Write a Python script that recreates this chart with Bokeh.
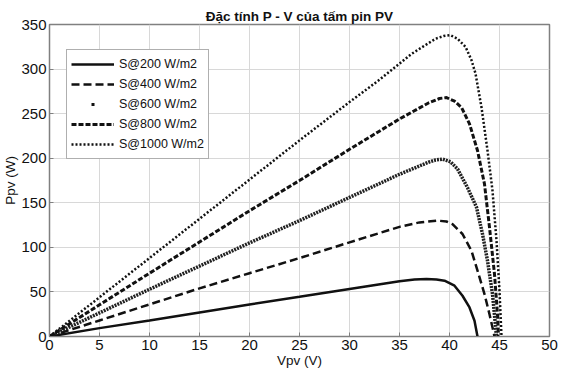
from bokeh.plotting import figure
from bokeh.models import Legend, LegendItem, Range1d, FixedTicker
from bokeh.embed import file_html
from bokeh.resources import INLINE

# Data
v200 = [0, 5, 10, 15, 20, 25, 30, 35, 36.5, 37.7, 38.7, 39.5, 40.5, 41.3, 42, 42.5, 42.8]
p200 = [0, 9.4, 18, 27, 36, 44.5, 53.3, 62, 64, 64.5, 64, 62.6, 57, 45.7, 32.6, 17.6, 0]

v400 = [0, 5, 10, 15, 20, 25, 30, 35, 37, 38.8, 39.7, 40.3, 41.3, 42.2, 42.8, 43.5, 44, 44.5]
p400 = [0, 18, 36, 54, 71, 88, 105.6, 123, 128, 130, 129, 126, 115, 96, 74, 47.6, 25, 0]

v600 = [0, 5, 10, 15, 20, 25, 30, 35, 37.9, 38.6, 39.3, 40.1, 40.8, 41.8, 42.7, 43.3, 43.8, 44.3, 44.7]
p600 = [0, 26.5, 53, 79, 105, 130, 156, 182, 195.5, 198, 199, 196, 188, 167, 145, 115, 85, 47.6, 0]

v800 = [0, 5, 10, 15, 20, 25, 30, 35, 37.9, 39.0, 39.7, 40.5, 41.2, 42, 42.8, 43.5, 44, 44.5, 44.8, 44.9]
p800 = [0, 35.5, 71, 106, 141, 175, 210, 244, 262, 267, 268, 264, 257, 238.6, 208.6, 171, 122.5, 70, 25, 0]

v1000 = [0, 5, 10, 15, 20, 25, 30, 33, 36.2, 38.6, 39.4, 40.1, 40.8, 41.6, 42.2, 42.6, 43.2, 43.8, 44.3, 44.7, 45.0, 45.2]
p1000 = [0, 44, 88, 132, 176, 220, 263, 288, 317, 334, 337, 338, 334, 325, 310, 295, 257, 208.7, 163.7, 107.5, 51, 0]

labels = ["S@200 W/m2", "S@400 W/m2", "S@600 W/m2", "S@800 W/m2", "S@1000 W/m2"]
x_ticks = [0, 5, 10, 15, 20, 25, 30, 35, 40, 45, 50]
y_ticks = [0, 50, 100, 150, 200, 250, 300, 350]

FONT = "Liberation Sans"
INK = "#111111"

p = figure(frame_width=500, frame_height=312, output_backend="svg", toolbar_location=None,
           x_range=Range1d(0, 50), y_range=Range1d(0, 350),
           min_border_left=49, min_border_right=12, min_border_top=24, min_border_bottom=42)
p.title.text = "Đặc tính P - V của tấm pin PV"
p.title.align = "center"
p.title.text_font = FONT
p.title.text_font_size = "13.5px"
p.title.text_font_style = "bold"
p.title.text_color = INK
p.title.offset = 0
p.title.standoff = 1

p.outline_line_color = "#808080"
p.outline_line_width = 1.5
p.background_fill_color = "white"
p.border_fill_color = "white"

for ax, ticks in ((p.xaxis[0], x_ticks), (p.yaxis[0], y_ticks)):
    ax.ticker = FixedTicker(ticks=ticks)
    ax.major_label_text_font = FONT
    ax.major_label_text_font_size = "15px"
    ax.major_label_text_color = INK
    ax.axis_label_text_font = FONT
    ax.axis_label_text_font_size = "13.5px"
    ax.axis_label_text_font_style = "normal"
    ax.axis_label_text_color = INK
    ax.axis_line_color = "#808080"
    ax.major_tick_line_color = "#808080"
    ax.major_tick_in = 4
    ax.major_tick_out = 0
    ax.minor_tick_line_color = None
    ax.major_label_standoff = 3
    ax.axis_label_standoff = 0

p.xaxis.axis_label = "Vpv (V)"
p.yaxis.axis_label = "Ppv (W)"
p.yaxis.major_label_orientation = "horizontal"

p.grid.grid_line_color = "#d8d8d8"
p.grid.grid_line_width = 1

r1 = p.line(v200, p200, line_color=INK, line_width=2.5)
r2 = p.line(v400, p400, line_color=INK, line_width=2.5, line_dash="8 4")
r3 = p.line(v600, p600, line_color="#222222", line_width=3.5, line_dash="2 1")
# legend proxy for the dot-marker series: a single small dot in the legend
r3l = p.line([float("nan")], [float("nan")], line_color=INK, line_width=3, line_dash="0 20 3 100")
r4 = p.line(v800, p800, line_color=INK, line_width=3, line_dash="5 2")
r5 = p.line(v1000, p1000, line_color=INK, line_width=2.5, line_dash="2 2")

legend = Legend(items=[
    LegendItem(label=labels[0], renderers=[r1]),
    LegendItem(label=labels[1], renderers=[r2]),
    LegendItem(label=labels[2], renderers=[r3l]),
    LegendItem(label=labels[3], renderers=[r4]),
    LegendItem(label=labels[4], renderers=[r5]),
], location=(17, 177))
legend.label_text_font = FONT
legend.label_text_font_size = "12.5px"
legend.label_text_color = INK
legend.label_height = 20
legend.label_standoff = 5
legend.glyph_width = 43
legend.glyph_height = 20
legend.spacing = 0
legend.padding = 4
legend.margin = 0
legend.border_line_color = "#606060"
legend.border_line_width = 1.2
legend.background_fill_alpha = 1.0
p.add_layout(legend, "center")

open("out.html", "w").write(file_html(p, INLINE))
